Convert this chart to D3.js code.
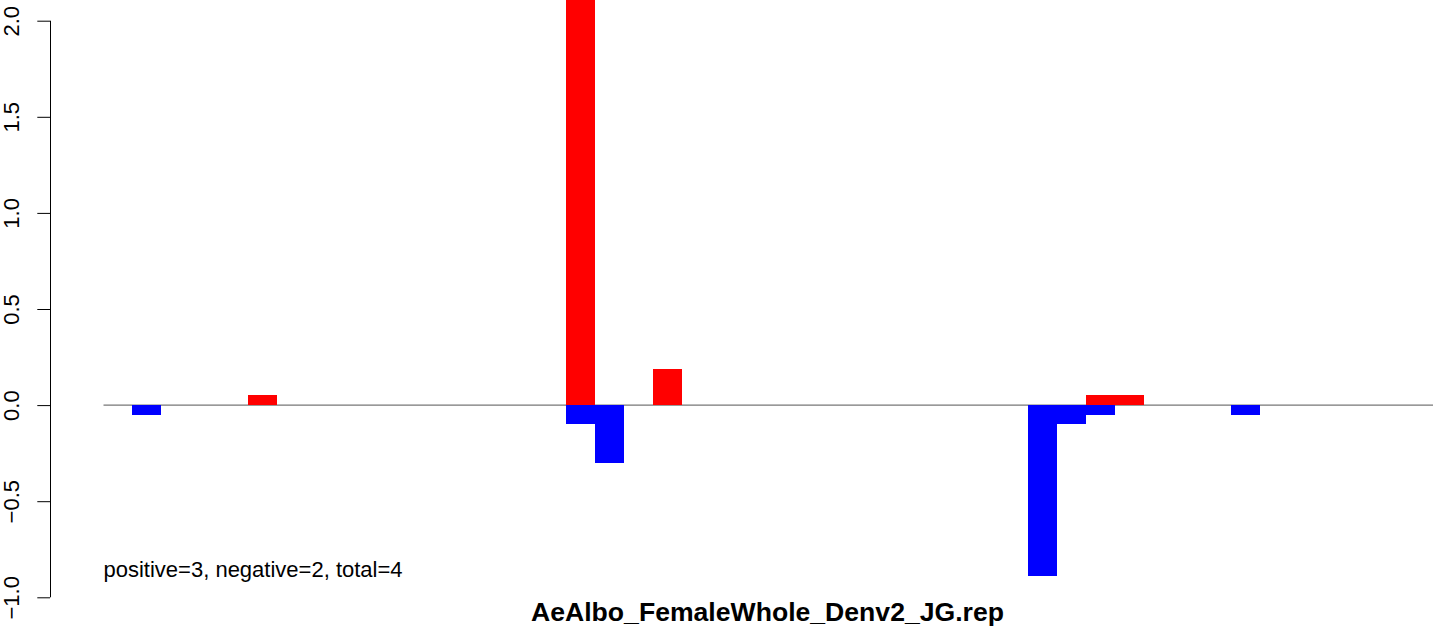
<!DOCTYPE html>
<html>
<head>
<meta charset="utf-8">
<script src="https://cdn.jsdelivr.net/npm/d3@7"></script>
<style>
  html, body { margin: 0; padding: 0; background: #fff; }
  svg { display: block; }
  text { font-family: "Liberation Sans", Arial, Helvetica, sans-serif; }
</style>
</head>
<body>
<svg id="chart" width="1444" height="631"></svg>
<script>
// ---- data ----
const slots = d3.range(46);
const positiveValues = [
  0, 0, 0, 0, 0, 0.05, 0, 0, 0, 0,
  0, 0, 0, 0, 0, 0, 2.5, 0, 0, 0.19,
  0, 0, 0, 0, 0, 0, 0, 0, 0, 0,
  0, 0, 0, 0, 0.05, 0.05, 0, 0, 0, 0,
  0, 0, 0, 0, 0, 0
];
const negativeValues = [
  0, -0.05, 0, 0, 0, 0, 0, 0, 0, 0,
  0, 0, 0, 0, 0, 0, -0.1, -0.3, 0, 0,
  0, 0, 0, 0, 0, 0, 0, 0, 0, 0,
  0, 0, -0.89, -0.1, -0.05, 0, 0, 0, 0, -0.05,
  0, 0, 0, 0, 0, 0
];
const yTicks = [-1, -0.5, 0, 0.5, 1, 1.5, 2];
const yTickLabels = ["\u22121.0", "\u22120.5", "0.0", "0.5", "1.0", "1.5", "2.0"];
const titleText = "AeAlbo_FemaleWhole_Denv2_JG.rep";
const noteText = "positive=3, negative=2, total=4";
const posColor = "#ff0000", negColor = "#0000ff";

// ---- layout ----
const svg = d3.select("#chart");
const x = d3.scaleLinear().domain([0, 46]).range([103.5, 1433]);
const y = d3.scaleLinear().domain([-1, 2]).range([597.3, 20.7]);
const axisX = 50;

svg.append("defs").append("clipPath").attr("id", "plotclip")
  .append("rect").attr("x", axisX).attr("y", y(2.12))
  .attr("width", 1444 - axisX).attr("height", y(-1.12) - y(2.12));

// zero line
svg.append("line")
  .attr("x1", x(0)).attr("x2", x(46))
  .attr("y1", y(0)).attr("y2", y(0))
  .attr("stroke", "#555").attr("stroke-width", 1);

const bars = svg.append("g").attr("clip-path", "url(#plotclip)");
bars.selectAll("rect.pos").data(slots.filter(i => positiveValues[i] !== 0))
  .enter().append("rect").attr("class", "pos")
  .attr("x", i => x(i)).attr("width", i => x(i + 1) - x(i))
  .attr("y", i => y(positiveValues[i])).attr("height", i => y(0) - y(positiveValues[i]))
  .attr("fill", posColor).attr("shape-rendering", "crispEdges");
bars.selectAll("rect.neg").data(slots.filter(i => negativeValues[i] !== 0))
  .enter().append("rect").attr("class", "neg")
  .attr("x", i => x(i)).attr("width", i => x(i + 1) - x(i))
  .attr("y", y(0)).attr("height", i => y(negativeValues[i]) - y(0))
  .attr("fill", negColor).attr("shape-rendering", "crispEdges");

// y axis
const yAxis = d3.axisLeft(y).tickValues(yTicks).tickSize(12.7)
  .tickFormat((d, i) => yTickLabels[i]).tickSizeOuter(0);
const gy = svg.append("g").attr("transform", `translate(${axisX},0)`).call(yAxis);
gy.select(".domain").attr("stroke", "#000").attr("stroke-width", 1)
  .attr("d", `M0.5,${y(-1)}V${y(2)}`);
gy.selectAll(".tick line").attr("stroke", "#000").attr("stroke-width", 1);
gy.selectAll(".tick text")
  .attr("x", null).attr("dy", null)
  .attr("font-size", 22).attr("fill", "#000")
  .attr("text-anchor", "middle")
  .attr("transform", `translate(${19 - axisX},0) rotate(-90)`);

// annotation
svg.append("text").attr("x", x(0)).attr("y", y(-0.892))
  .attr("font-size", 22).attr("fill", "#000").text(noteText);

// title
svg.append("text").attr("x", 767.5).attr("y", 621)
  .attr("text-anchor", "middle").attr("font-weight", "bold")
  .attr("font-size", 26.6).attr("fill", "#000").text(titleText);
</script>
</body>
</html>
